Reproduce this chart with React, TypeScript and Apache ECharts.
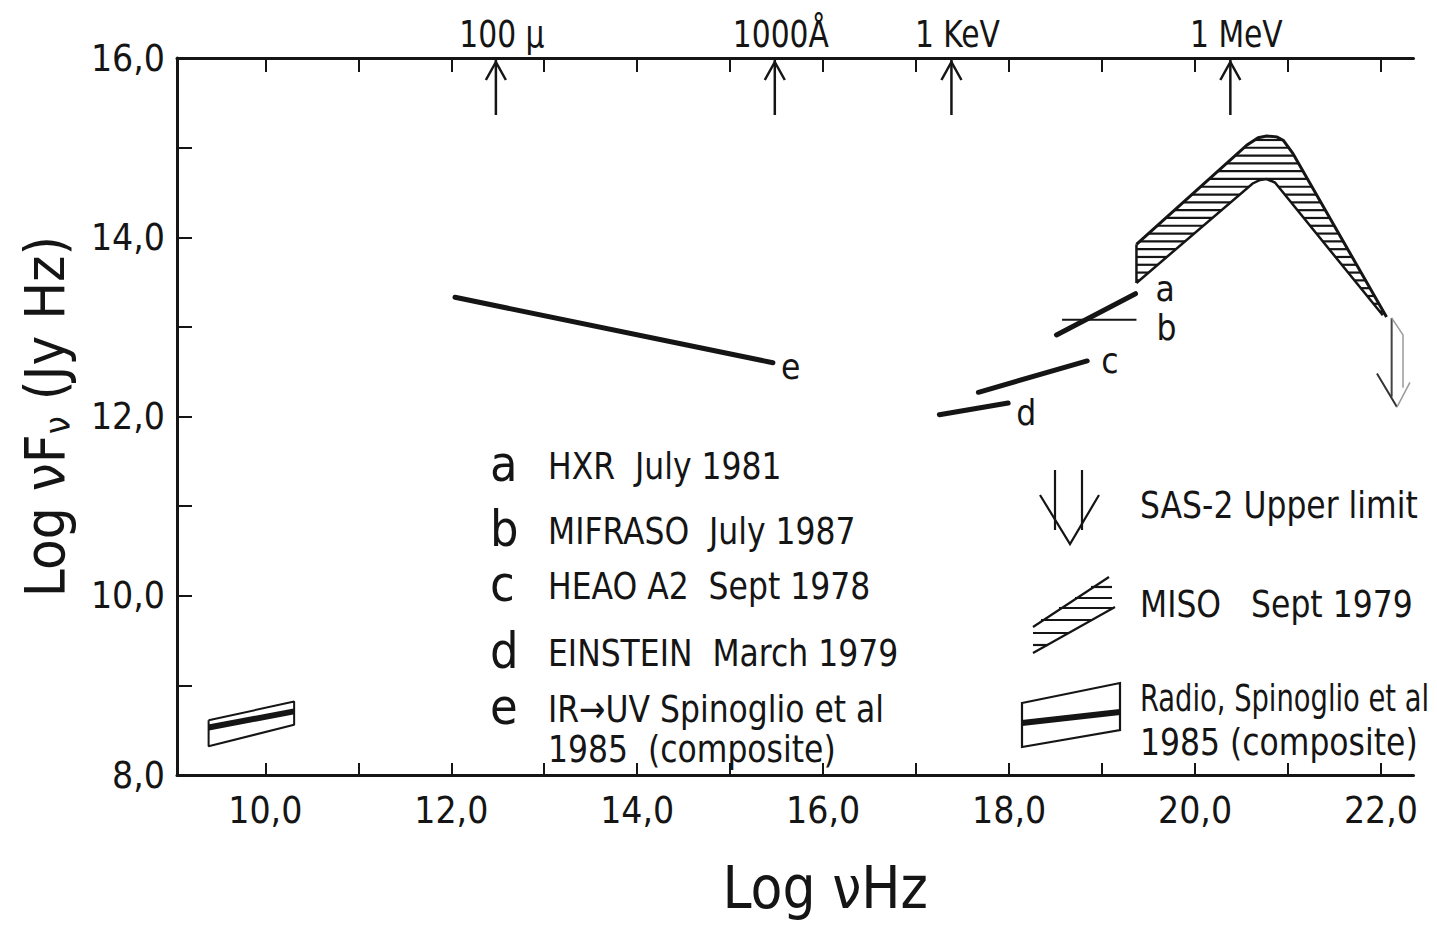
import { useEffect, useRef } from "react";
import * as echarts from "echarts";

const FONT = '"DejaVu Sans Condensed", "Liberation Sans Narrow", "Roboto Condensed", "Liberation Sans", sans-serif';
const INK = "#151515";
const GREY = "#9a9a9a";

// ---- axes ----
const xMin = 9.05;
const xMax = 22.35;
const yMin = 8;
const yMax = 16;
const xTickValues = [10, 11, 12, 13, 14, 15, 16, 17, 18, 19, 20, 21, 22];
const xLabelValues = [10, 12, 14, 16, 18, 20, 22];
const yTickValues = [8, 9, 10, 11, 12, 13, 14, 15, 16];
const yLabelValues = [8, 10, 12, 14, 16];

// ---- top reference markers ----
const topMarkerX = [12.48, 15.48, 17.38, 20.38];
const topMarkerLabels = ["100 μ", "1000Å", "1 KeV", "1 MeV"];

// ---- data (log nu, log nuFnu) ----
const seriesE = [[12.04, 13.33], [15.46, 12.6]];
const seriesD = [[17.25, 12.02], [17.99, 12.15]];
const seriesC = [[17.67, 12.27], [18.84, 12.62]];
const seriesA = [[18.51, 12.91], [19.36, 13.37]];
const seriesB = [[18.57, 13.08], [19.37, 13.08]];

const misoOuter = [
  [19.37, 13.92], [20.56, 15.03], [20.68, 15.11], [20.77, 15.13],
  [20.88, 15.12], [20.95, 15.08], [21.05, 14.94], [22.06, 13.11],
];
const misoInner = [
  [19.37, 13.49], [20.62, 14.6], [20.7, 14.64], [20.77, 14.65],
  [20.86, 14.61], [22.02, 13.13],
];

const sasLeft = [[22.115, 13.1], [22.115, 12.22]];
const sasRight = [[22.115, 13.1], [22.237, 12.91], [22.237, 12.32]];
const sasHeadLeft = [[21.957, 12.48], [22.172, 12.105]];
const sasHeadRight = [[22.172, 12.105], [22.312, 12.38]];

const radioBox = [[9.39, 8.61], [10.31, 8.82], [10.31, 8.56], [9.39, 8.32], [9.39, 8.61]];
const radioMid = [[9.39, 8.53], [10.31, 8.71]];

// ---- legend text ----
const leftLegendKeys = ["a", "b", "c", "d", "e"];
const leftLegendTexts = [
  "HXR  July 1981",
  "MIFRASO  July 1987",
  "HEAO A2  Sept 1978",
  "EINSTEIN  March 1979",
  "IR→UV Spinoglio et al",
];
const leftLegendExtra = "1985  (composite)";
const rightLegendTexts = ["SAS-2 Upper limit", "MISO   Sept 1979", "Radio, Spinoglio et al", "1985 (composite)"];

// layout constants (pixels)
const leftLegendRowY = [466, 531, 586, 653, 709];
const leftLegendExtraY = 749;
const COND = 0.92;

const fmt = (v: number) => v.toFixed(1).replace(".", ",");

function thickLine(name: string, data: number[][], label: string, dist: number, offset: number[]) {
  return {
    name,
    type: "line",
    data,
    symbol: "none",
    lineStyle: { color: INK, width: 5, cap: "round" },
    endLabel: {
      show: true,
      formatter: label,
      color: INK,
      fontSize: 35,
      fontFamily: FONT,
      distance: dist,
      offset,
    },
    z: 5,
  };
}

function thinLine(data: number[][], color: string, width: number) {
  return {
    type: "line",
    data,
    symbol: "none",
    lineStyle: { color, width },
    z: 4,
  };
}

export default function App() {
  const ref = useRef<HTMLDivElement>(null);

  useEffect(() => {
    document.body.style.margin = "0";
    const chart = echarts.init(ref.current!, null, { renderer: "svg" });

    const t = (text: string, x: number, y: number, size: number, scaleX = COND) => ({
      type: "text",
      x,
      y,
      scaleX,
      style: {
        text,
        fill: INK,
        font: `${size}px ${FONT}`,
        textAlign: "left",
        textVerticalAlign: "middle",
        align: "left",
        verticalAlign: "middle",
      },
    });

    const graphics: any[] = [];
    leftLegendKeys.forEach((k, i) => {
      graphics.push(t(k, 490, leftLegendRowY[i] - 2, 50, 1));
      graphics.push(t(leftLegendTexts[i], 548, leftLegendRowY[i], 38));
    });
    graphics.push(t(leftLegendExtra, 548, leftLegendExtraY, 38));

    graphics.push(t(rightLegendTexts[0], 1140, 505, 38));
    graphics.push(t(rightLegendTexts[1], 1140, 604, 38));
    graphics.push(t(rightLegendTexts[2], 1140, 698, 38, 0.8));
    graphics.push(t(rightLegendTexts[3], 1140, 742, 38));

    const ls = { stroke: INK, lineWidth: 2.2, fill: "none" };
    // SAS-2 legend swatch
    graphics.push({ type: "line", shape: { x1: 1055, y1: 470, x2: 1055, y2: 530 }, style: ls });
    graphics.push({ type: "line", shape: { x1: 1082, y1: 470, x2: 1082, y2: 530 }, style: ls });
    graphics.push({ type: "polyline", shape: { points: [[1040, 495], [1070, 544], [1099, 495]] }, style: ls });
    // MISO legend swatch
    graphics.push({ type: "line", shape: { x1: 1033, y1: 627, x2: 1109, y2: 577 }, style: ls });
    graphics.push({ type: "line", shape: { x1: 1033, y1: 653, x2: 1115, y2: 607 }, style: ls });
    [
      [587, 1091, 1112],
      [598, 1075, 1112],
      [608, 1059, 1114],
      [620, 1041, 1092],
      [633, 1033, 1069],
      [645, 1033, 1048],
    ].forEach(([y, a, b]) => {
      graphics.push({ type: "line", shape: { x1: a, y1: y, x2: b, y2: y }, style: ls });
    });
    // Radio legend swatch
    graphics.push({
      type: "polygon",
      shape: { points: [[1022, 703], [1120, 683], [1120, 730], [1022, 747]] },
      style: ls,
    });
    graphics.push({ type: "line", shape: { x1: 1022, y1: 723, x2: 1120, y2: 712 }, style: { stroke: INK, lineWidth: 6 } });

    const option: any = {
      animation: false,
      backgroundColor: "#ffffff",
      textStyle: { fontFamily: FONT, color: INK },
      grid: { left: 177, right: 23.5, top: 58, bottom: 152, containLabel: false, outerBoundsMode: "none" },
      xAxis: [
        {
          type: "value",
          min: xMin,
          max: xMax,
          position: "bottom",
          axisLine: { show: true, onZero: false, lineStyle: { color: INK, width: 3 } },
          axisTick: { show: true, inside: true, length: 12, customValues: xTickValues, lineStyle: { color: INK, width: 2 } },
          axisLabel: {
            customValues: xLabelValues,
            formatter: fmt,
            fontSize: 37,
            fontFamily: FONT,
            color: INK,
            margin: 17,
          },
          splitLine: { show: false },
          name: "Log νHz",
          nameLocation: "middle",
          nameGap: 84,
          nameTextStyle: { fontSize: 58, fontFamily: FONT, color: INK, padding: [0, 0, 0, 60] },
        },
        {
          type: "value",
          min: xMin,
          max: xMax,
          position: "top",
          axisLine: { show: true, onZero: false, lineStyle: { color: INK, width: 3 } },
          axisTick: { show: true, inside: true, length: 14, customValues: xTickValues, lineStyle: { color: INK, width: 2 } },
          axisLabel: { show: false },
          splitLine: { show: false },
        },
      ],
      yAxis: {
        type: "value",
        min: yMin,
        max: yMax,
        axisLine: { show: true, onZero: false, lineStyle: { color: INK, width: 3 } },
        axisTick: { show: true, inside: true, length: 15, customValues: yTickValues, lineStyle: { color: INK, width: 2 } },
        axisLabel: {
          customValues: yLabelValues,
          formatter: fmt,
          fontSize: 37,
          fontFamily: FONT,
          color: INK,
          margin: 12,
        },
        splitLine: { show: false },
        name: "Log νF{s|ν} (Jy Hz)",
        nameLocation: "middle",
        nameRotate: 90,
        nameGap: 102,
        nameTextStyle: {
          fontSize: 56,
          fontFamily: FONT,
          color: INK,
          lineHeight: 62,
          rich: { s: { fontSize: 36, fontFamily: FONT, color: INK, verticalAlign: "bottom", lineHeight: 36 } },
        },
      },
      graphic: graphics,
      series: [
        thickLine("e", seriesE, "e", 8, [0, 4]),
        thickLine("d", seriesD, "d", 8, [0, 10]),
        thickLine("c", seriesC, "c", 14, [0, 0]),
        thickLine("a", seriesA, "a", 20, [0, -5]),
        {
          type: "line",
          data: seriesB,
          symbol: "none",
          lineStyle: { color: INK, width: 2 },
          endLabel: { show: true, formatter: "b", color: INK, fontSize: 35, fontFamily: FONT, distance: 20, offset: [0, 8] },
          z: 4,
        },
        thinLine(radioBox, INK, 2),
        { type: "line", data: radioMid, symbol: "none", lineStyle: { color: INK, width: 6 }, z: 5 },
        thinLine(sasLeft, "#444", 2),
        thinLine(sasRight, GREY, 1.5),
        thinLine(sasHeadLeft, "#333", 2),
        thinLine(sasHeadRight, GREY, 1.5),
        {
          type: "custom",
          coordinateSystem: "cartesian2d",
          clip: false,
          data: [misoOuter[0]],
          z: 3,
          renderItem: (_params: any, api: any) => {
            const outer = misoOuter.map((p) => api.coord(p));
            const inner = misoInner.map((p) => api.coord(p));
            const poly = [...outer, ...inner.slice().reverse()];
            const ys = poly.map((p: number[]) => p[1]);
            const minY = Math.min(...ys);
            const maxY = Math.max(...ys);
            const children: any[] = [];
            for (let y = minY + 4; y < maxY; y += 7.8) {
              const xs: number[] = [];
              for (let i = 0; i < poly.length; i++) {
                const [x1, y1] = poly[i];
                const [x2, y2] = poly[(i + 1) % poly.length];
                if ((y1 <= y && y2 > y) || (y2 <= y && y1 > y)) {
                  xs.push(x1 + ((y - y1) * (x2 - x1)) / (y2 - y1));
                }
              }
              xs.sort((a, b) => a - b);
              for (let k = 0; k + 1 < xs.length; k += 2) {
                children.push({
                  type: "line",
                  shape: { x1: xs[k], y1: y, x2: xs[k + 1], y2: y },
                  style: { stroke: INK, lineWidth: 2.2 },
                });
              }
            }
            children.push({ type: "polyline", shape: { points: outer }, style: { stroke: INK, lineWidth: 3, fill: "none" } });
            children.push({ type: "polyline", shape: { points: inner }, style: { stroke: INK, lineWidth: 2.5, fill: "none" } });
            children.push({
              type: "line",
              shape: { x1: outer[0][0], y1: outer[0][1], x2: inner[0][0], y2: inner[0][1] },
              style: { stroke: INK, lineWidth: 2.5 },
            });
            return { type: "group", children };
          },
        },
        {
          type: "custom",
          coordinateSystem: "cartesian2d",
          clip: false,
          data: topMarkerX.map((x) => [x, yMax]),
          z: 6,
          renderItem: (params: any, api: any) => {
            const p = api.coord([api.value(0), api.value(1)]);
            const x = p[0];
            const y = p[1];
            return {
              type: "group",
              children: [
                { type: "line", shape: { x1: x, y1: y + 2, x2: x, y2: y + 57 }, style: { stroke: INK, lineWidth: 2.5 } },
                {
                  type: "polyline",
                  shape: { points: [[x - 10, y + 22], [x, y + 4], [x + 10, y + 22]] },
                  style: { stroke: INK, lineWidth: 2.5, fill: "none" },
                },
                {
                  type: "text",
                  x: x + 6,
                  y: y - 24,
                  scaleX: 0.87,
                  style: {
                    text: topMarkerLabels[params.dataIndex],
                    fill: INK,
                    font: `38px ${FONT}`,
                    textAlign: "center",
                    textVerticalAlign: "middle",
                    align: "center",
                    verticalAlign: "middle",
                  },
                },
              ],
            };
          },
        },
      ],
    };

    chart.setOption(option);
    return () => chart.dispose();
  }, []);

  return <div ref={ref} style={{ width: 1437, height: 927 }} />;
}
